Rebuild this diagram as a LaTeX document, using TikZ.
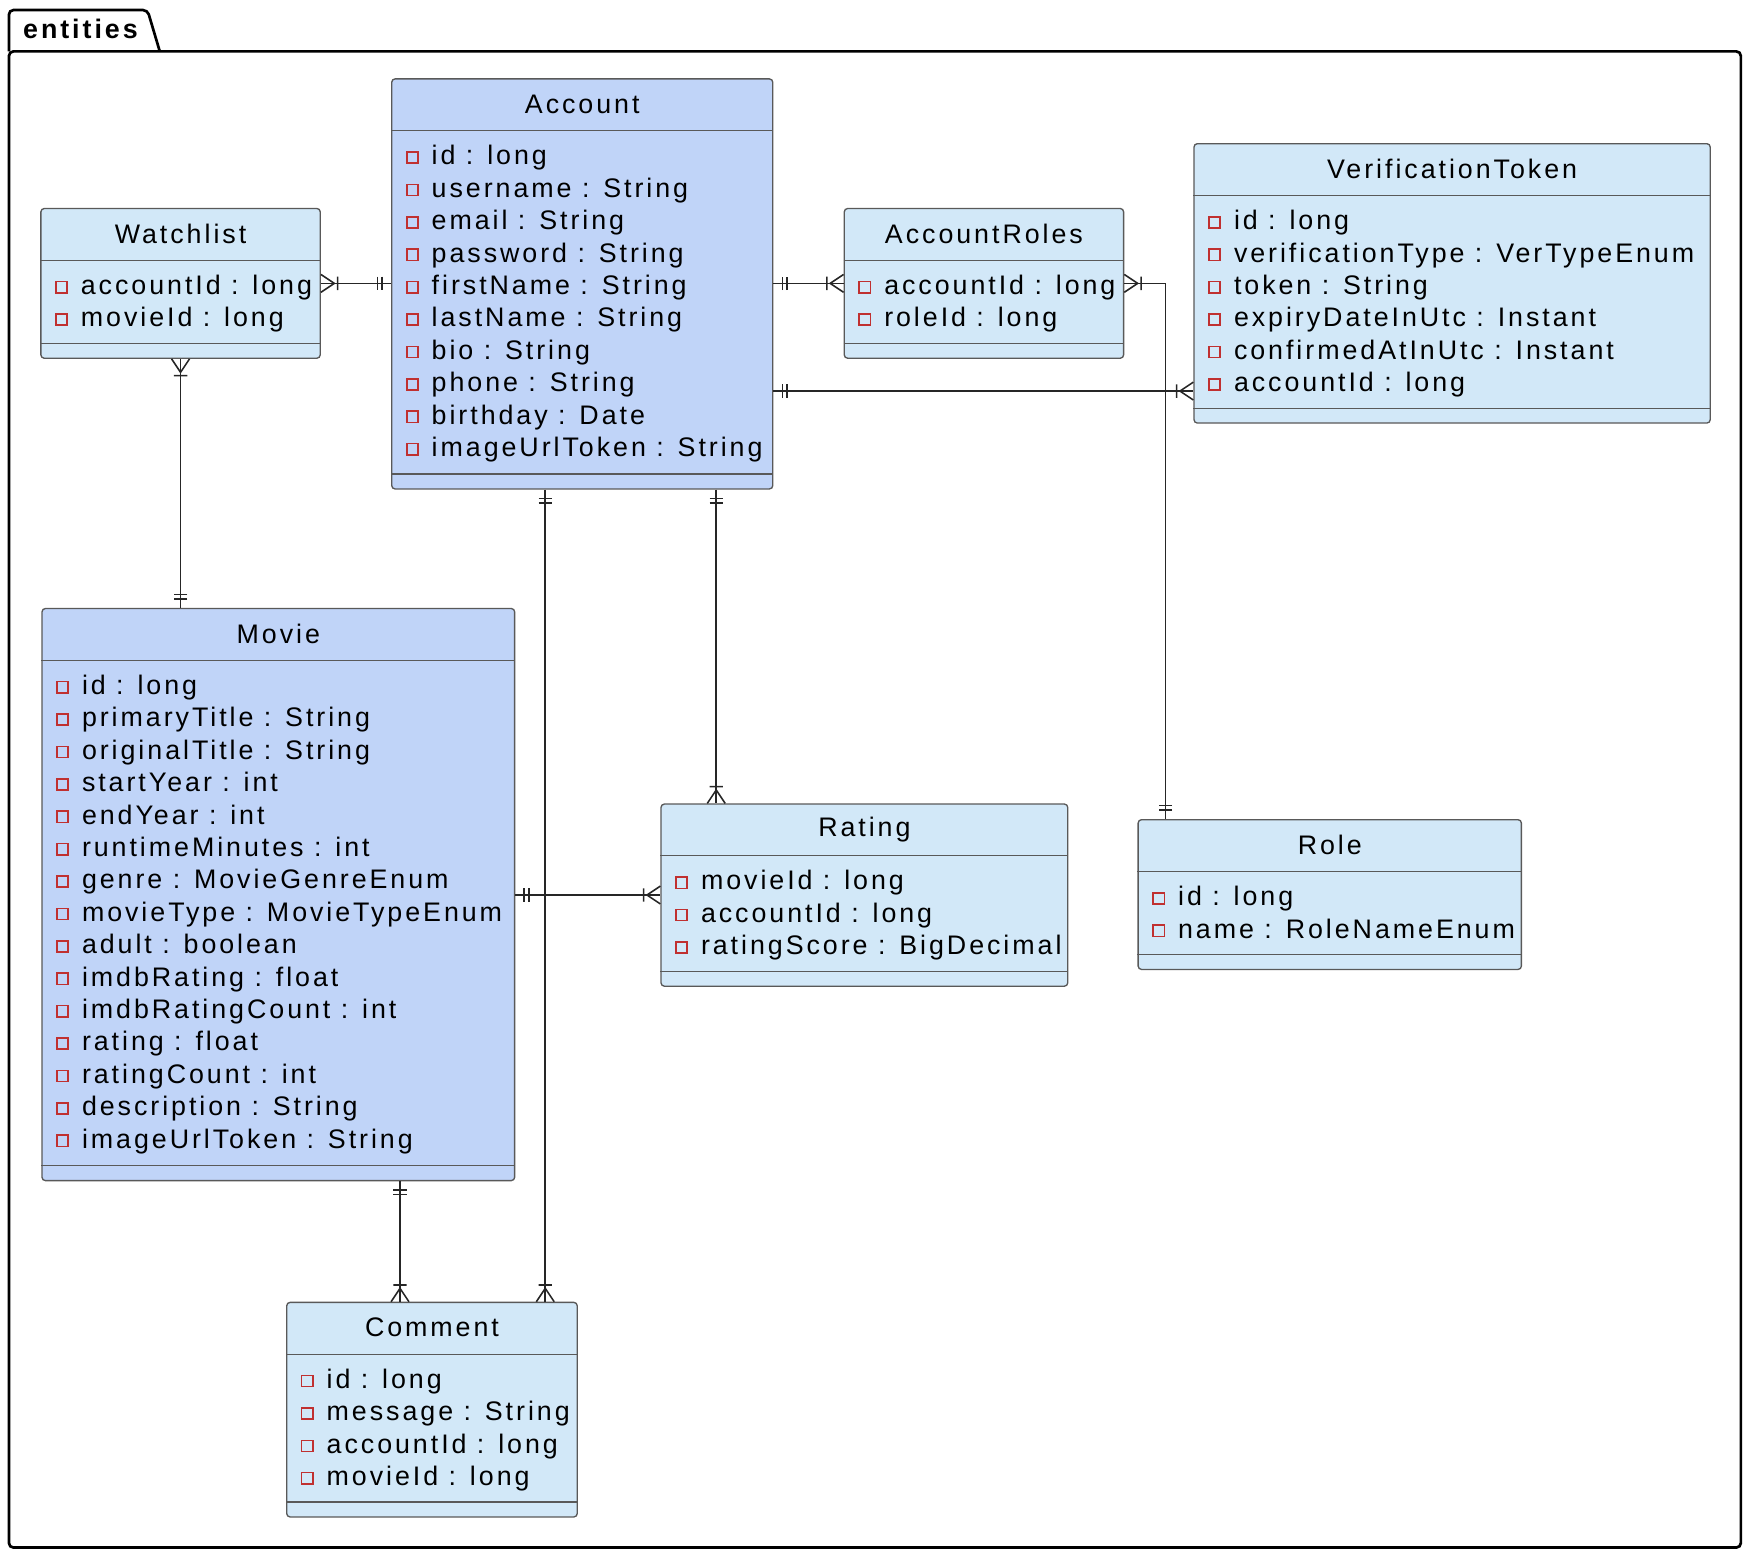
\documentclass[tikz,border=0pt]{standalone}
\usepackage{fontspec}
\setmainfont{Liberation Sans}[LetterSpace=11]
\usetikzlibrary{calc,positioning}
\definecolor{entblue}{HTML}{C0D4F8}
\definecolor{entlight}{HTML}{D2E8F8}
\definecolor{sqred}{HTML}{C03030}

\tikzset{
    box/.style={rectangle, draw=black!65, line width=0.6pt, rounded corners=1.5pt, inner sep=0pt},
    title/.style={font=\fontsize{12}{14}\selectfont, inner sep=0pt},
    row/.style={font=\fontsize{12}{14}\selectfont, inner sep=0pt, anchor=base west},
    sq/.style={draw=sqred, line width=0.7pt},
    sep/.style={draw=black!65, line width=0.5pt},
    rel/.style={draw=black!85, line width=0.7pt},
    one/.pic={\draw[black!85, line width=0.7pt] (4pt,-3pt) -- (4pt,3pt) (6pt,-3pt) -- (6pt,3pt);},
    many/.pic={\draw[black!85, line width=0.7pt] (0,-4pt) -- (6pt,0) -- (0,4pt) (7.5pt,-3pt) -- (7.5pt,3pt);}
}

% name, x, y, width, height, fill, title, rows
\newcommand\entity[8]{%
    \node[box, fill=#6, minimum width=#4*0.5pt, minimum height=#5*0.5pt, anchor=north west] (#1) at (#2,#3) {};
    \node[title] at ($(#1.north)+(0,23)$) {#7};
    \draw[sep] ($(#1.north west)+(0,47)$) -- ($(#1.north east)+(0,47)$);
    \draw[sep] ($(#1.south west)+(0,-14)$) -- ($(#1.south east)+(0,-14)$);
    \foreach \t [count=\i] in {#8} {
        \node[row] at ($(#1.north west)+(36,77.5+29*\i-29)$) {\t};
        \draw[sq] ($(#1.north west)+(14,66+29*\i-29)$) rectangle ++(10,10);
    }
}

\begin{document}
\begin{tikzpicture}[x=0.5pt, y=-0.5pt]
    \useasboundingbox (0,0) rectangle (1568,1394);
    % package
    \draw[line width=1.2pt, rounded corners=2pt] (8,46) rectangle (1558,1385);
    \draw[line width=1.2pt, rounded corners=2pt] (8,46) -- (8,9) -- (132,9) -- (143,46);
    \node[font=\fontsize{12}{14}\selectfont\bfseries, inner sep=0pt] (pkg) at (72,26) {entities};

    % entities
    \entity{acc}{350}{70}{341}{367}{entblue}{Account}{id : long, username : String, email : String, password : String, firstName : String, lastName : String, bio : String, phone : String, birthday : Date, imageUrlToken : String}
    \entity{wl}{36}{186}{250}{134}{entlight}{Watchlist}{accountId : long, movieId : long}
    \entity{ar}{755}{186}{250}{134}{entlight}{AccountRoles}{accountId : long, roleId : long}
    \entity{vt}{1068}{128}{462}{250}{entlight}{VerificationToken}{id : long, verificationType : VerTypeEnum, token : String, expiryDateInUtc : Instant, confirmedAtInUtc : Instant, accountId : long}
    \entity{mv}{37}{544}{423}{512}{entblue}{Movie}{id : long, primaryTitle : String, originalTitle : String, startYear : int, endYear : int, runtimeMinutes : int, genre : MovieGenreEnum, movieType : MovieTypeEnum, adult : boolean, imdbRating : float, imdbRatingCount : int, rating : float, ratingCount : int, description : String, imageUrlToken : String}
    \entity{rt}{591}{719}{364}{163}{entlight}{Rating}{movieId : long, accountId : long, ratingScore : BigDecimal}
    \entity{role}{1018}{733}{343}{134}{entlight}{Role}{id : long, name : RoleNameEnum}
    \entity{cm}{256}{1165}{260}{192}{entlight}{Comment}{id : long, message : String, accountId : long, movieId : long}

    % relations
    \draw[rel] (wl.east) -- (acc.west |- wl.east);
    \pic at (wl.east) {many};
    \pic[rotate=180] at (acc.west |- wl.east) {one};

    \draw[rel] (acc.east |- ar.west) -- (ar.west);
    \pic at (acc.east |- ar.west) {one};
    \pic[rotate=180] at (ar.west) {many};

    \coordinate (rl) at (1043,733);
    \draw[rel] (ar.east) -| (rl);
    \pic at (ar.east) {many};
    \pic[rotate=90] at (rl) {one};

    \coordinate (vtp) at (1068,350);
    \draw[rel] (acc.east |- vtp) -- (vtp);
    \pic at (acc.east |- vtp) {one};
    \pic[rotate=180] at (vtp) {many};

    \draw[rel] (wl.south) -- (mv.north -| wl.south);
    \pic[rotate=-90] at (wl.south) {many};
    \pic[rotate=90] at (mv.north -| wl.south) {one};

    \draw[rel] (acc.south -| 641,0) -- (rt.north -| 641,0);
    \pic[rotate=-90] at (acc.south -| 641,0) {one};
    \pic[rotate=90] at (rt.north -| 641,0) {many};

    \draw[rel] (acc.south -| 488,0) -- (cm.north -| 488,0);
    \pic[rotate=-90] at (acc.south -| 488,0) {one};
    \pic[rotate=90] at (cm.north -| 488,0) {many};

    \draw[rel] (mv.east |- 0,801) -- (rt.west |- 0,801);
    \pic at (mv.east |- 0,801) {one};
    \pic[rotate=180] at (rt.west |- 0,801) {many};

    \draw[rel] (mv.south -| 358,0) -- (cm.north -| 358,0);
    \pic[rotate=-90] at (mv.south -| 358,0) {one};
    \pic[rotate=90] at (cm.north -| 358,0) {many};
\end{tikzpicture}
\end{document}
